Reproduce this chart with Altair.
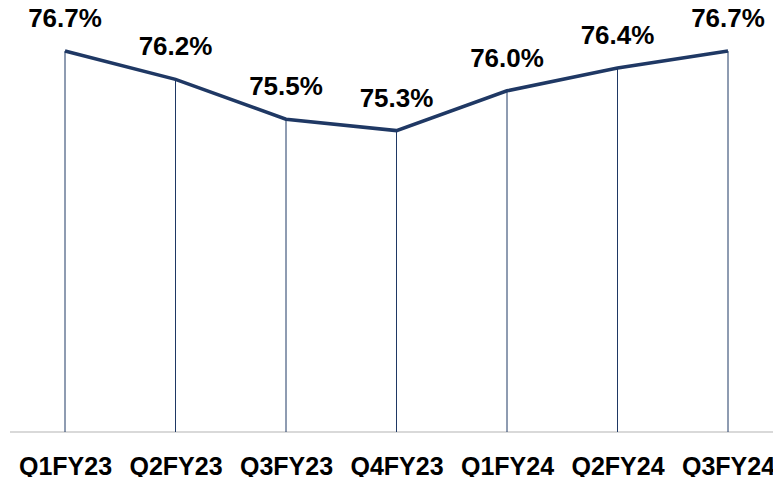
import altair as alt
import pandas as pd

quarters = ["Q1FY23", "Q2FY23", "Q3FY23", "Q4FY23", "Q1FY24", "Q2FY24", "Q3FY24"]
values = [76.7, 76.2, 75.5, 75.3, 76.0, 76.4, 76.7]
labels = ["76.7%", "76.2%", "75.5%", "75.3%", "76.0%", "76.4%", "76.7%"]

df = pd.DataFrame({"q": quarters, "v": values, "lab": labels})

NAVY = "#1F3864"
FONT = "Liberation Sans"
W, H = 765, 424

x = alt.X("q:N", sort=quarters, title=None,
          scale=alt.Scale(type="point", padding=0, range=[57, 720]),
          axis=alt.Axis(labelAngle=0, ticks=False, domain=False,
                        labelFont=FONT, labelFontSize=25, labelFontWeight="bold",
                        labelColor="#000000", labelPadding=22, labelBaseline="top"))
y = alt.Y("v:Q", scale=alt.Scale(domain=[70, 77.456], zero=False, nice=False), axis=None)

base = alt.Chart(df)
baseline = base.mark_rule(color="#d9d9d9", strokeWidth=2).encode(
    x=alt.value(2), x2=alt.value(W), y=alt.value(H))
rules = base.mark_rule(color=NAVY, strokeWidth=1).encode(x=x, y=y, y2=alt.datum(70))
line = base.mark_line(color=NAVY, strokeWidth=3.5).encode(x=x, y=y)
text = base.mark_text(font=FONT, fontSize=26, fontWeight="bold", color="#000000",
                      baseline="alphabetic", dy=-24).encode(x=x, y=y, text="lab:N")

chart = alt.layer(baseline, rules, line, text).properties(
    width=W, height=H,
    background="white",
    autosize=alt.AutoSizeParams(type="none"),
    padding={"left": 0, "top": 0, "right": 0, "bottom": 45},
).configure_view(stroke=None, strokeWidth=0)

chart.save("out.html", embed_options={"renderer": "svg", "actions": False})
